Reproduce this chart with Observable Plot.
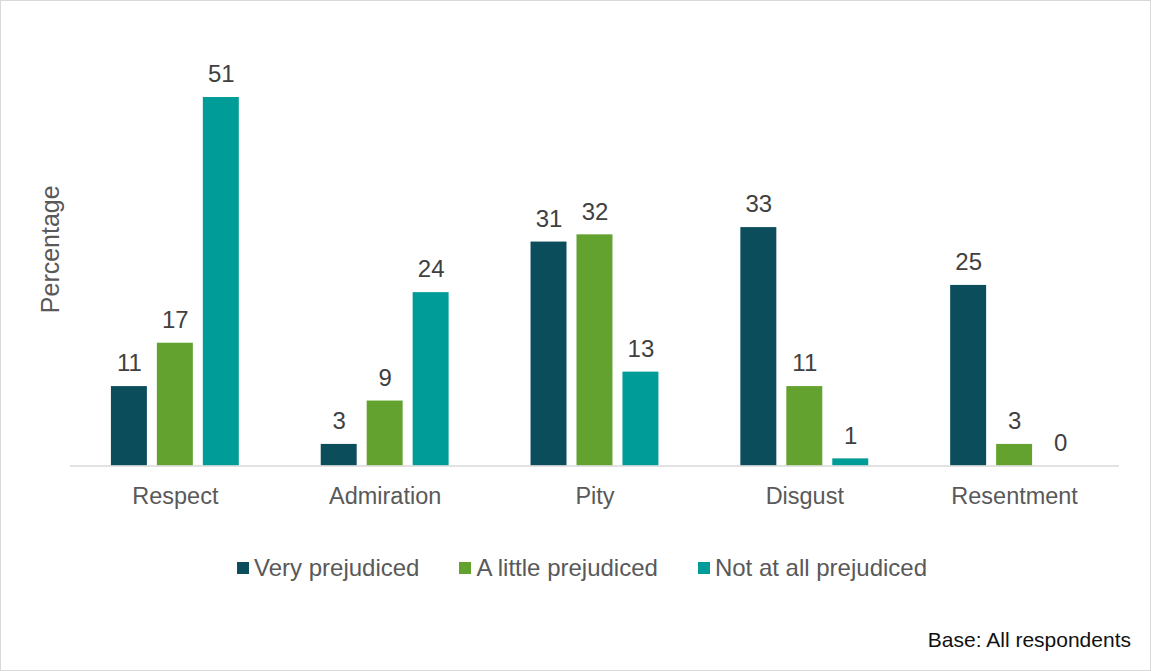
<!DOCTYPE html>
<html>
<head>
<meta charset="utf-8">
<script src="https://cdn.jsdelivr.net/npm/d3@7"></script>
<script src="https://cdn.jsdelivr.net/npm/@observablehq/plot@0.6"></script>
<style>
  html, body { margin: 0; padding: 0; background: #fff; }
  #frame { position: relative; width: 1151px; height: 671px; box-sizing: border-box; border: 1px solid #d9d9d9; font-family: "Liberation Sans", Arial, sans-serif; overflow: hidden; }
  #chart { position: absolute; left: -1px; top: -1px; }
  #legend { position: absolute; left: 236px; top: 553px; display: flex; align-items: center; font-size: 24px; color: #595959; white-space: nowrap; }
  .item { display: flex; align-items: center; margin-right: 40px; }
  .sw { width: 12px; height: 12px; margin-right: 5px; }
  #base { position: absolute; right: 19px; top: 627px; font-size: 21px; color: #111; }
</style>
</head>
<body>
<div id="frame">
  <div id="chart"></div>
  <div id="legend"></div>
  <div id="base">Base: All respondents</div>
</div>
<script>
const categories = ["Respect", "Admiration", "Pity", "Disgust", "Resentment"];
const series = ["Very prejudiced", "A little prejudiced", "Not at all prejudiced"];
const veryPrejudiced = [11, 3, 31, 33, 25];
const littlePrejudiced = [17, 9, 32, 11, 3];
const notPrejudiced = [51, 24, 13, 1, 0];
const colors = ["#0c4d5c", "#64a22f", "#009c97"];

const seriesValues = [veryPrejudiced, littlePrejudiced, notPrejudiced];
const data = [];
categories.forEach((c, i) => {
  series.forEach((s, j) => data.push({category: c, series: s, value: seriesValues[j][i]}));
});

const chart = Plot.plot({
  width: 1151,
  height: 516,
  marginTop: 32,
  marginBottom: 50,
  marginLeft: 70,
  marginRight: 31,
  style: {fontFamily: "'Liberation Sans', Arial, sans-serif", background: "transparent", overflow: "visible"},
  fx: {domain: categories, padding: 0, label: null, axis: null},
  x: {domain: series, axis: null, paddingInner: 0.21, paddingOuter: 0.84},
  y: {domain: [0, 60], axis: null},
  color: {domain: series, range: colors},
  marks: [
    Plot.axisFx({anchor: "bottom", tickSize: 0, tickPadding: 21, fontSize: 23.5, color: "#595959", label: null}),
    Plot.axisY({ticks: [], tickSize: 0, label: "Percentage", labelAnchor: "center", labelArrow: "none", labelOffset: 29, fontSize: 25, color: "#595959"}),
    Plot.barY(data, {fx: "category", x: "series", y: "value", fill: "series"}),
    Plot.ruleY([0], {stroke: "#d9d9d9", strokeWidth: 1.5}),
    Plot.text(data, {fx: "category", x: "series", y: "value", text: d => String(d.value), dy: -23, fill: "#404040", fontSize: 24})
  ]
});
document.getElementById("chart").appendChild(chart);

const legend = document.getElementById("legend");
series.forEach((s, j) => {
  const item = document.createElement("div");
  item.className = "item";
  const sw = document.createElement("div");
  sw.className = "sw";
  sw.style.background = colors[j];
  const t = document.createElement("span");
  t.textContent = s;
  item.appendChild(sw);
  item.appendChild(t);
  legend.appendChild(item);
});
</script>
</body>
</html>
